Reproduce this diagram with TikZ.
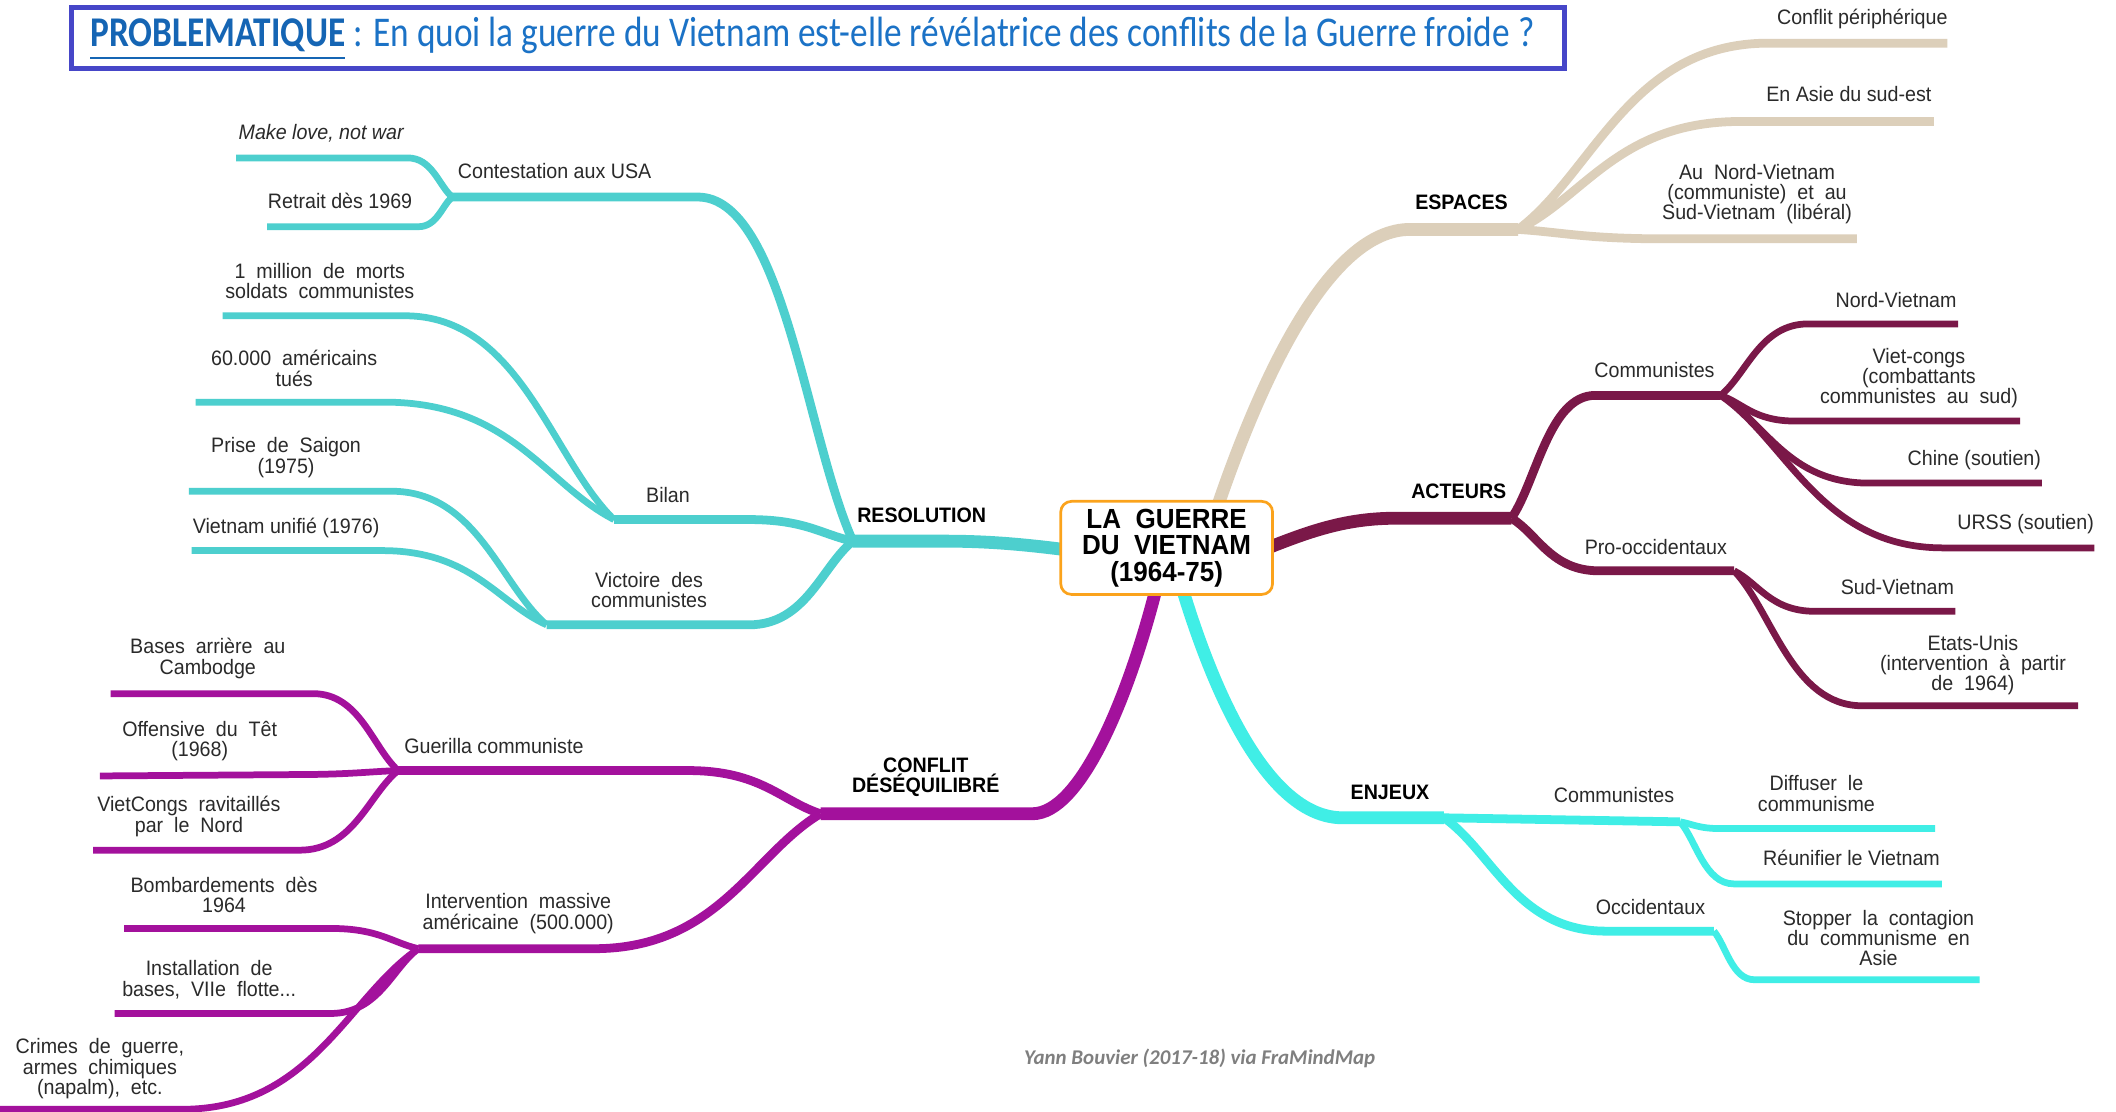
\documentclass[tikz,border=0pt]{standalone}
\usepackage{fontspec}
\setmainfont{Liberation Sans}
\newfontfamily\labf[FakeStretch=0.94]{Liberation Sans}
\newfontfamily\titf{Carlito}
\usetikzlibrary{calc}
\definecolor{cTan}{HTML}{DCCFBA}
\definecolor{cMar}{HTML}{7A1848}
\definecolor{cCya}{HTML}{40EEE6}
\definecolor{cPur}{HTML}{A3119C}
\definecolor{cTea}{HTML}{4DCFCE}
\definecolor{cOra}{HTML}{FBA31C}
\definecolor{cBox}{HTML}{4646C8}
\definecolor{cTit}{HTML}{1B72C6}
\definecolor{cTitD}{HTML}{1565B4}
\definecolor{cTxt}{HTML}{2A2A2A}
\definecolor{cFoot}{HTML}{7F7F7F}
\begin{document}
\begin{tikzpicture}[x=1pt,y=-1pt,
  br/.style={to path={.. controls ($(\tikztostart)!0.3!(\tikztotarget)$) and ($(\tikztotarget)!0.55!(\tikztostart |- \tikztotarget)$) .. (\tikztotarget)}},
  mainln/.style={line width=9.5pt},
  midln/.style={line width=6.5pt},
  leafln/.style={line width=5pt},
  lab/.style={font=\labf\fontsize{15.5}{15}\selectfont, text=cTxt, align=center, inner sep=0pt},
  blab/.style={font=\labf\bfseries\fontsize{15.5}{15}\selectfont, text=black, align=center, inner sep=0pt},
]
\fill[white] (0,0) rectangle (1568,824);
\useasboundingbox (0,0) rectangle (1568,824);

% ---------- title ----------
\node[draw=cBox, line width=3.8pt, minimum width=1106pt, minimum height=45pt, inner sep=0pt, fill=white] (title) at (606,28) {};
\node[inner sep=0pt, anchor=base] (titletext) at (602,34.6)
  {\scalebox{1}[1.2]{\resizebox{1070pt}{!}{\titf\color{cTit}\textcolor{cTitD}{\textbf{\underline{PROBLEMATIQUE}}} : En quoi la guerre du Vietnam est-elle révélatrice des conflits de la Guerre froide ?}}};

% ---------- centre anchors ----------
\coordinate (cE) at (903,373);
\coordinate (cA) at (942,405);
\coordinate (cN) at (877,439);
\coordinate (cC) at (856,439);
\coordinate (cR) at (787,407);

% ---------- ESPACES ----------
\coordinate (eB) at (1045,170); \coordinate (eJ) at (1125,170);
\draw[cTan,mainln] (cE) .. controls (935,280) and (985,170) .. (eB) -- (eJ);
\coordinate (e1b) at (1310,32);  \coordinate (e1e) at (1443,32);
\coordinate (e2b) at (1290,90);  \coordinate (e2e) at (1433,90);
\coordinate (e3b) at (1235,177); \coordinate (e3e) at (1376,177);
\draw[cTan,midln] (eJ) to[br] (e1b) -- (e1e);
\draw[cTan,midln] (eJ) to[br] (e2b) -- (e2e);
\draw[cTan,midln] (eJ) to[br] (e3b) -- (e3e);
\node[blab] (lE) at (1083,150) {ESPACES};
\node[lab] (le1) at (1380,14) {Conflit périphérique};
\node[lab] (le2) at (1370,70) {En Asie du sud-est};
\node[lab] (le3) at (1302,144) {Au~ Nord-Vietnam\\(communiste)~ et~ au\\Sud-Vietnam~ (libéral)};

% ---------- ACTEURS ----------
\coordinate (aB) at (1035,384); \coordinate (aJ) at (1120,384);
\draw[cMar,mainln] (cA) .. controls (975,392) and (1000,384) .. (aB) -- (aJ);
\coordinate (a1b) at (1182,293); \coordinate (a1J) at (1275,293);
\coordinate (a2b) at (1185,423); \coordinate (a2J) at (1285,423);
\draw[cMar,midln] (aJ) to[br] (a1b) -- (a1J);
\draw[cMar,midln] (aJ) to[br] (a2b) -- (a2J);
\coordinate (a11b) at (1340,240); \coordinate (a11e) at (1451,240);
\coordinate (a12b) at (1330,312); \coordinate (a12e) at (1497,312);
\coordinate (a13b) at (1385,358); \coordinate (a13e) at (1513,358);
\coordinate (a14b) at (1440,406); \coordinate (a14e) at (1552,406);
\coordinate (a21b) at (1345,453); \coordinate (a21e) at (1449,453);
\coordinate (a22b) at (1380,523); \coordinate (a22e) at (1540,523);
\foreach \i in {11,12,13,14} \draw[cMar,leafln] (a1J) to[br] (a\i b) -- (a\i e);
\foreach \i in {21,22} \draw[cMar,leafln] (a2J) to[br] (a\i b) -- (a\i e);
\node[blab] (lA) at (1081,364) {ACTEURS};
\node[lab] (la1) at (1226,274) {Communistes};
\node[lab] (la2) at (1227,405) {Pro-occidentaux};
\node[lab] (la11) at (1405,222) {Nord-Vietnam};
\node[lab] (la12) at (1422,280) {Viet-congs\\(combattants\\communistes~ au~ sud)};
\node[lab] (la13) at (1463,341) {Chine (soutien)};
\node[lab] (la14) at (1501,388) {URSS (soutien)};
\node[lab] (la21) at (1406,435) {Sud-Vietnam};
\node[lab] (la22) at (1462,493) {Etats-Unis\\(intervention~ à~ partir\\de~ 1964)};

% ---------- ENJEUX ----------
\coordinate (nB) at (995,606); \coordinate (nJ) at (1070,606);
\draw[cCya,mainln] (cN) .. controls (905,530) and (945,606) .. (nB) -- (nJ);
\coordinate (n1J) at (1245,609);
\coordinate (n2b) at (1190,690); \coordinate (n2J) at (1270,690);
\draw[cCya,midln] (nJ) -- (n1J);
\draw[cCya,midln] (nJ) to[br] (n2b) -- (n2J);
\coordinate (n11b) at (1275,614); \coordinate (n11e) at (1434,614);
\coordinate (n12b) at (1285,655); \coordinate (n12e) at (1439,655);
\coordinate (n21b) at (1300,726); \coordinate (n21e) at (1467,726);
\draw[cCya,leafln] (n1J) to[br] (n11b) -- (n11e);
\draw[cCya,leafln] (n1J) to[br] (n12b) -- (n12e);
\draw[cCya,leafln] (n2J) to[br] (n21b) -- (n21e);
\node[blab] (lN) at (1030,587) {ENJEUX};
\node[lab] (ln1) at (1196,589) {Communistes};
\node[lab] (ln2) at (1223,672) {Occidentaux};
\node[lab] (ln11) at (1346,588) {Diffuser~ le\\communisme};
\node[lab] (ln12) at (1372,636) {Réunifier le Vietnam};
\node[lab] (ln21) at (1392,695) {Stopper~ la~ contagion\\du~ communisme~ en\\Asie};

% ---------- CONFLIT DESEQUILIBRE ----------
\coordinate (kB) at (765,603); \coordinate (kJ) at (608,603);
\draw[cPur,mainln] (cC) .. controls (835,520) and (800,603) .. (kB) -- (kJ);
\coordinate (k1b) at (510,571); \coordinate (k1J) at (295,571);
\coordinate (k2b) at (440,703); \coordinate (k2J) at (310,703);
\draw[cPur,midln] (kJ) to[br] (k1b) -- (k1J);
\draw[cPur,midln] (kJ) to[br] (k2b) -- (k2J);
\coordinate (k11b) at (232,514); \coordinate (k11e) at (82,514);
\coordinate (k12b) at (215,574); \coordinate (k12e) at (74,575);
\coordinate (k13b) at (222,630); \coordinate (k13e) at (69,630);
\coordinate (k21b) at (245,688); \coordinate (k21e) at (92,688);
\coordinate (k22b) at (245,751); \coordinate (k22e) at (85,751);
\coordinate (k23b) at (135,822); \coordinate (k23e) at (0,822);
\foreach \i in {11,12,13} \draw[cPur,leafln] (k1J) to[br] (k\i b) -- (k\i e);
\foreach \i in {21,22,23} \draw[cPur,leafln] (k2J) to[br] (k\i b) -- (k\i e);
\node[blab] (lK) at (686,576) {CONFLIT\\DÉSÉQUILIBRÉ};
\node[lab] (lk1) at (366,553) {Guerilla communiste};
\node[lab] (lk2) at (384,677) {Intervention~ massive\\américaine~ (500.000)};
\node[lab] (lk11) at (154,488) {Bases~ arrière~ au\\Cambodge};
\node[lab] (lk12) at (148,549) {Offensive~ du~ Têt\\(1968)};
\node[lab] (lk13) at (140,605) {VietCongs~ ravitaillés\\par~ le~ Nord};
\node[lab] (lk21) at (166,663) {Bombardements~ dès\\1964};
\node[lab] (lk22) at (155,726) {Installation~ de\\bases,~ VIIe~ flotte...};
\node[lab] (lk23) at (74,792) {Crimes~ de~ guerre,\\armes~ chimiques\\(napalm),~ etc.};

% ---------- RESOLUTION ----------
\coordinate (rB) at (700,401); \coordinate (rJ) at (632,401);
\draw[cTea,mainln] (cR) .. controls (755,403) and (730,401) .. (rB) -- (rJ);
\coordinate (r1b) at (517,146); \coordinate (r1J) at (335,146);
\coordinate (r2b) at (555,385); \coordinate (r2J) at (455,385);
\coordinate (r3b) at (555,463); \coordinate (r3J) at (405,463);
\draw[cTea,midln] (rJ) to[br] (r1b) -- (r1J);
\draw[cTea,midln] (rJ) to[br] (r2b) -- (r2J);
\draw[cTea,midln] (rJ) to[br] (r3b) -- (r3J);
\coordinate (r11b) at (302,117); \coordinate (r11e) at (175,117);
\coordinate (r12b) at (310,168); \coordinate (r12e) at (198,168);
\coordinate (r21b) at (300,234); \coordinate (r21e) at (165,234);
\coordinate (r22b) at (285,298); \coordinate (r22e) at (145,298);
\coordinate (r31b) at (290,364); \coordinate (r31e) at (140,364);
\coordinate (r32b) at (283,408); \coordinate (r32e) at (142,408);
\foreach \i in {11,12} \draw[cTea,leafln] (r1J) to[br] (r\i b) -- (r\i e);
\foreach \i in {21,22} \draw[cTea,leafln] (r2J) to[br] (r\i b) -- (r\i e);
\foreach \i in {31,32} \draw[cTea,leafln] (r3J) to[br] (r\i b) -- (r\i e);
\node[blab] (lR) at (683,382) {RESOLUTION};
\node[lab] (lr1) at (411,127) {Contestation aux USA};
\node[lab] (lr2) at (495,367) {Bilan};
\node[lab] (lr3) at (481,437) {Victoire~ des\\communistes};
\node[lab,font=\labf\itshape\fontsize{15.5}{15}\selectfont] (lr11) at (238,99) {Make love, not war};
\node[lab] (lr12) at (252,149) {Retrait dès 1969};
\node[lab] (lr21) at (237,208) {1~ million~ de~ morts\\soldats~ communistes};
\node[lab] (lr22) at (218,273) {60.000~ américains\\tués};
\node[lab] (lr31) at (212,339) {Prise~ de~ Saigon\\(1975)};
\node[lab] (lr32) at (212,391) {Vietnam unifié (1976)};

% ---------- centre ----------
\node[draw=cOra, line width=2pt, rounded corners=8pt, fill=white, minimum width=157pt, minimum height=69pt,
  align=center, inner sep=0pt, font=\labf\bfseries\fontsize{20.5}{19.5}\selectfont] (centre) at (864.5,406)
  {LA~~GUERRE\\DU~~VIETNAM\\(1964-75)};

% ---------- footer ----------
\node[inner sep=0pt, text=cFoot] (foot) at (889,784) {\resizebox{260pt}{!}{\titf\bfseries\itshape Yann Bouvier (2017-18) via FraMindMap}};
\end{tikzpicture}
\end{document}
